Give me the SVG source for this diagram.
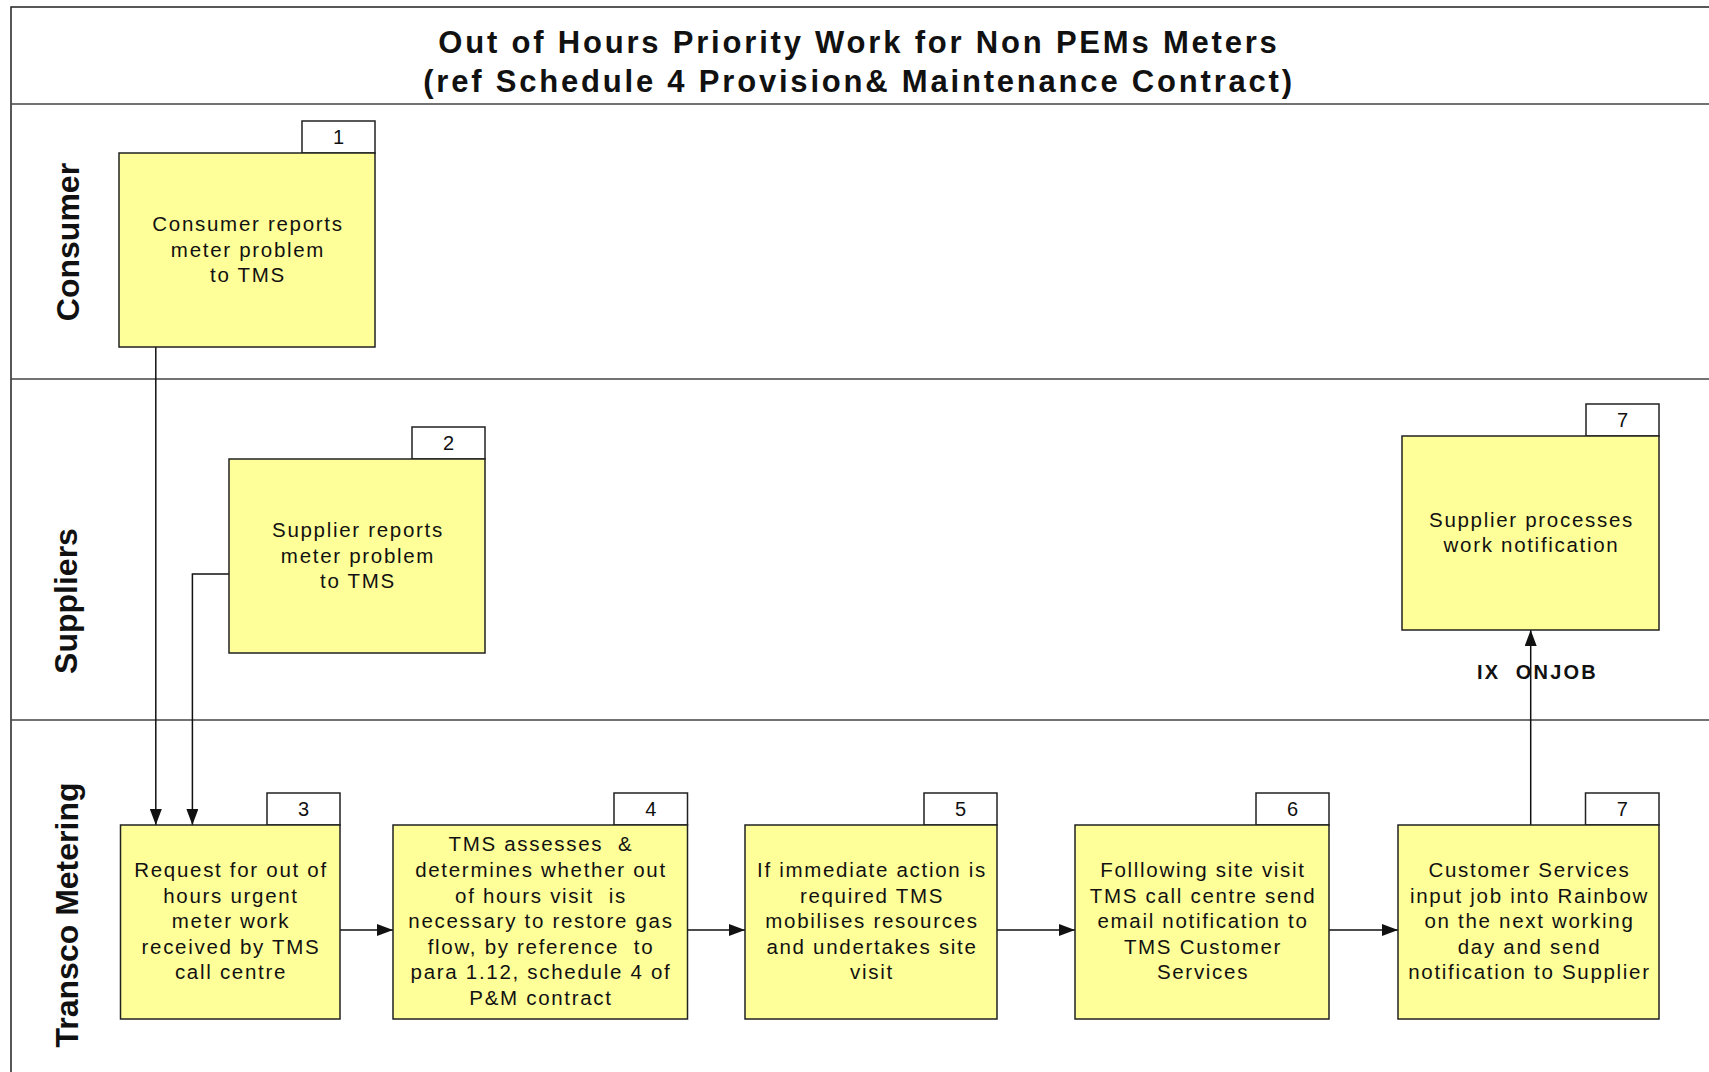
<svg xmlns="http://www.w3.org/2000/svg" width="1709" height="1072" viewBox="0 0 1709 1072">
<defs>
<style>
.frame{stroke:#222;stroke-width:1.5;fill:none}
.div{stroke:#444;stroke-width:1.5;fill:none}
.box{fill:#ffff99;stroke:#222;stroke-width:1.5}
.tab{fill:#fff;stroke:#222;stroke-width:1.5}
.t{font-family:"Liberation Sans",Arial,sans-serif;font-size:20.5px;letter-spacing:1.7px;fill:#111;text-anchor:middle;white-space:pre}
.num{font-family:"Liberation Sans",Arial,sans-serif;font-size:20px;fill:#111;text-anchor:middle}
.lane{font-family:"Liberation Sans",Arial,sans-serif;font-size:32px;font-weight:bold;fill:#111;text-anchor:middle}
.title{font-family:"Liberation Sans",Arial,sans-serif;font-size:31px;font-weight:bold;letter-spacing:2.8px;fill:#111;text-anchor:middle}
.lbl{font-family:"Liberation Sans",Arial,sans-serif;font-size:20px;font-weight:bold;letter-spacing:2.2px;fill:#111;white-space:pre}
.conn{stroke:#111;stroke-width:1.5;fill:none;marker-end:url(#arr)}
</style>
<marker id="arr" viewBox="0 0 16 12" refX="16" refY="6" markerWidth="16" markerHeight="12" markerUnits="userSpaceOnUse" orient="auto">
<path d="M0,0 L16,6 L0,12 Z" fill="#111"/>
</marker>
</defs>
<rect width="1709" height="1072" fill="#fff"/>
<g id="frame">
<path class="frame" d="M11,1072 L11,7 L1709,7"/>
<line class="div" x1="11" y1="104" x2="1709" y2="104"/>
<line class="div" x1="11" y1="379" x2="1709" y2="379"/>
<line class="div" x1="11" y1="720" x2="1709" y2="720"/>
</g>
<g id="title">
<text class="title" x="859" y="53">Out of Hours Priority Work for Non PEMs Meters</text>
<text class="title" x="859" y="92">(ref Schedule 4 Provision&amp; Maintenance Contract)</text>
</g>
<g id="lanes">
<text class="lane" transform="translate(79,242) rotate(-90)">Consumer</text>
<text class="lane" transform="translate(77,601) rotate(-90)">Suppliers</text>
<text class="lane" transform="translate(78,915) rotate(-90)">Transco Metering</text>
</g>
<g id="connectors">
<line class="conn" x1="155.8" y1="347" x2="155.8" y2="825"/>
<polyline class="conn" points="229,574 192.4,574 192.4,825"/>
<line class="conn" x1="340" y1="930" x2="393" y2="930"/>
<line class="conn" x1="687.5" y1="930" x2="745" y2="930"/>
<line class="conn" x1="997" y1="930" x2="1075" y2="930"/>
<line class="conn" x1="1329" y1="930" x2="1398" y2="930"/>
<line class="conn" x1="1530.7" y1="825" x2="1530.7" y2="630"/>
<text class="lbl" x="1477" y="679">IX  ONJOB</text>
</g>
<g id="n1">
<rect class="tab" x="302" y="121" width="73" height="32"/>
<text class="num" x="338.5" y="144">1</text>
<rect class="box" x="119" y="153" width="256" height="194"/>
<text class="t" x="248" y="231">Consumer reports</text>
<text class="t" x="248" y="256.5">meter problem</text>
<text class="t" x="248" y="282">to TMS</text>
</g>
<g id="n2">
<rect class="tab" x="412" y="427" width="73" height="32"/>
<text class="num" x="448.5" y="450">2</text>
<rect class="box" x="229" y="459" width="256" height="194"/>
<text class="t" x="358" y="537">Supplier reports</text>
<text class="t" x="358" y="562.5">meter problem</text>
<text class="t" x="358" y="588">to TMS</text>
</g>
<g id="n7a">
<rect class="tab" x="1586" y="404" width="73" height="32"/>
<text class="num" x="1622.5" y="427">7</text>
<rect class="box" x="1402" y="436" width="257" height="194"/>
<text class="t" x="1531.5" y="526.7">Supplier processes</text>
<text class="t" x="1531.5" y="552.3">work notification</text>
</g>
<g id="n3">
<rect class="tab" x="267" y="793" width="73" height="32"/>
<text class="num" x="303.5" y="816">3</text>
<rect class="box" x="120.5" y="825" width="219.5" height="194"/>
<text class="t" x="231" y="877">Request for out of</text>
<text class="t" x="231" y="902.6">hours urgent</text>
<text class="t" x="231" y="928.2">meter work</text>
<text class="t" x="231" y="953.8">received by TMS</text>
<text class="t" x="231" y="979.4">call centre</text>
</g>
<g id="n4">
<rect class="tab" x="614" y="793" width="73.5" height="32"/>
<text class="num" x="650.7" y="816">4</text>
<rect class="box" x="393" y="825" width="294.5" height="194"/>
<text class="t" x="541" y="851.4">TMS assesses  &amp;</text>
<text class="t" x="541" y="877">determines whether out</text>
<text class="t" x="541" y="902.6">of hours visit  is</text>
<text class="t" x="541" y="928.2">necessary to restore gas</text>
<text class="t" x="541" y="953.8">flow, by reference  to</text>
<text class="t" x="541" y="979.4">para 1.12, schedule 4 of</text>
<text class="t" x="541" y="1005">P&amp;M contract</text>
</g>
<g id="n5">
<rect class="tab" x="924" y="793" width="73" height="32"/>
<text class="num" x="960.5" y="816">5</text>
<rect class="box" x="745" y="825" width="252" height="194"/>
<text class="t" x="872" y="877">If immediate action is</text>
<text class="t" x="872" y="902.6">required TMS</text>
<text class="t" x="872" y="928.2">mobilises resources</text>
<text class="t" x="872" y="953.8">and undertakes site</text>
<text class="t" x="872" y="979.4">visit</text>
</g>
<g id="n6">
<rect class="tab" x="1256" y="793" width="73" height="32"/>
<text class="num" x="1292.5" y="816">6</text>
<rect class="box" x="1075" y="825" width="254" height="194"/>
<text class="t" x="1203" y="877">Folllowing site visit</text>
<text class="t" x="1203" y="902.6">TMS call centre send</text>
<text class="t" x="1203" y="928.2">email notification to</text>
<text class="t" x="1203" y="953.8">TMS Customer</text>
<text class="t" x="1203" y="979.4">Services</text>
</g>
<g id="n7b">
<rect class="tab" x="1585.5" y="793" width="73.5" height="32"/>
<text class="num" x="1622.2" y="816">7</text>
<rect class="box" x="1398" y="825" width="261" height="194"/>
<text class="t" x="1529.5" y="877">Customer Services</text>
<text class="t" x="1529.5" y="902.6">input job into Rainbow</text>
<text class="t" x="1529.5" y="928.2">on the next working</text>
<text class="t" x="1529.5" y="953.8">day and send</text>
<text class="t" x="1529.5" y="979.4">notification to Supplier</text>
</g>
</svg>
